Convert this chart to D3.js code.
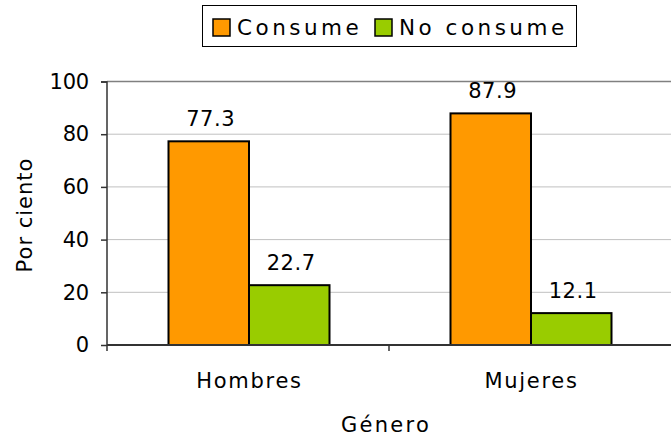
<!DOCTYPE html>
<html>
<head>
<meta charset="utf-8">
<script src="https://cdn.jsdelivr.net/npm/d3@7"></script>
<style>
  html, body { margin: 0; padding: 0; background: #fff; }
  svg text { font-family: "DejaVu Sans", Verdana, sans-serif; fill: #000; }
</style>
</head>
<body>
<svg id="chart" width="671" height="441"></svg>
<script>
const categories = ["Hombres", "Mujeres"];
const seriesNames = ["Consume", "No consume"];
const consume = [77.3, 87.9];
const noConsume = [22.7, 12.1];
const yTicks = [0, 20, 40, 60, 80, 100];
const colors = ["#FF9900", "#99CC00"];

const svg = d3.select("#chart");
const margin = { left: 107, right: 0, top: 81.5, bottom: 96 };
const W = 671, H = 441;
const plotW = W - margin.left - margin.right;
const plotH = H - margin.top - margin.bottom;

const x0 = d3.scaleBand().domain(categories).range([0, plotW]).paddingInner(0).paddingOuter(0);
const x1 = d3.scaleBand().domain(seriesNames).range([0, 161]);
const y = d3.scaleLinear().domain([0, 100]).range([plotH, 0]);

const g = svg.append("g").attr("transform", `translate(${margin.left},${margin.top})`);

// gridlines
g.selectAll("line.grid").data(yTicks.filter(t => t > 0)).enter().append("line")
  .attr("x1", 0).attr("x2", plotW)
  .attr("y1", d => y(d)).attr("y2", d => y(d))
  .attr("stroke", d => d === 100 ? "#808080" : "#c0c0c0")
  .attr("stroke-width", d => d === 100 ? 1.5 : 1);

// bars
const data = categories.map((c, i) => ({ cat: c, vals: [consume[i], noConsume[i]] }));
const groups = g.selectAll("g.cat").data(data).enter().append("g")
  .attr("transform", d => `translate(${x0(d.cat) + (x0.bandwidth() - 161) / 2 + 1},0)`);

groups.selectAll("rect").data(d => d.vals.map((v, j) => ({ v, s: seriesNames[j], j }))).enter().append("rect")
  .attr("x", d => x1(d.s))
  .attr("width", x1.bandwidth())
  .attr("y", d => y(d.v))
  .attr("height", d => plotH - y(d.v))
  .attr("fill", d => colors[d.j])
  .attr("stroke", "#000")
  .attr("stroke-width", 2);

groups.selectAll("text.lbl").data(d => d.vals.map((v, j) => ({ v, s: seriesNames[j], j }))).enter().append("text")
  .attr("x", d => x1(d.s) + x1.bandwidth() / 2 + 2)
  .attr("y", d => y(d.v) - 15)
  .attr("text-anchor", "middle")
  .style("font-size", "21px")
  .style("letter-spacing", "0.6px")
  .text(d => d.v.toFixed(1));

// y axis
const yAxis = d3.axisLeft(y).tickValues(yTicks).tickSize(6).tickPadding(12).tickFormat(d3.format("d"));
const ya = g.append("g").call(yAxis);
ya.select(".domain").attr("stroke", "#333").attr("stroke-width", 1.5).attr("d", `M-6,0.5H0V${plotH}`);
ya.selectAll(".tick line").attr("stroke", "#333").attr("stroke-width", 1.5);
ya.selectAll(".tick text").style("font-size", "21px").style("letter-spacing", "-0.2px")
  .style("font-family", "DejaVu Sans, Verdana, sans-serif").attr("fill", "#000");

// x axis
const xa = g.append("g").attr("transform", `translate(0,${plotH})`);
xa.append("line").attr("x1", 0).attr("x2", plotW).attr("y1", 0).attr("y2", 0)
  .attr("stroke", "#333").attr("stroke-width", 2);
xa.selectAll("line.xt").data(categories).enter().append("line")
  .attr("x1", d => x0(d)).attr("x2", d => x0(d)).attr("y1", 0).attr("y2", 6)
  .attr("stroke", "#333").attr("stroke-width", 1.5);
xa.selectAll("text.xl").data(categories).enter().append("text")
  .attr("x", d => x0(d) + x0.bandwidth() / 2 + 1.5)
  .attr("y", 43)
  .attr("text-anchor", "middle")
  .style("font-size", "21px")
  .style("letter-spacing", "1.7px")
  .text(d => d);

// axis titles
svg.append("text").attr("x", 386).attr("y", 432)
  .attr("text-anchor", "middle").style("font-size", "21px").style("letter-spacing", "2.3px").text("Género");
svg.append("text").attr("transform", "translate(32,215) rotate(-90)")
  .attr("text-anchor", "middle").style("font-size", "21px").style("letter-spacing", "1px").text("Por ciento");

// legend
const leg = svg.append("g");
leg.append("rect").attr("x", 202.5).attr("y", 5.5).attr("width", 374).attr("height", 41)
  .attr("fill", "#fff").attr("stroke", "#000").attr("stroke-width", 1);
const legX = [213, 375];
seriesNames.forEach((s, i) => {
  leg.append("rect").attr("x", legX[i]).attr("y", 19).attr("width", 17).attr("height", 17)
    .attr("fill", colors[i]).attr("stroke", "#000").attr("stroke-width", 1.5);
  leg.append("text").attr("x", legX[i] + 24).attr("y", 35)
    .style("font-size", "21.5px").style("letter-spacing", "3.5px").text(s);
});
</script>
</body>
</html>
